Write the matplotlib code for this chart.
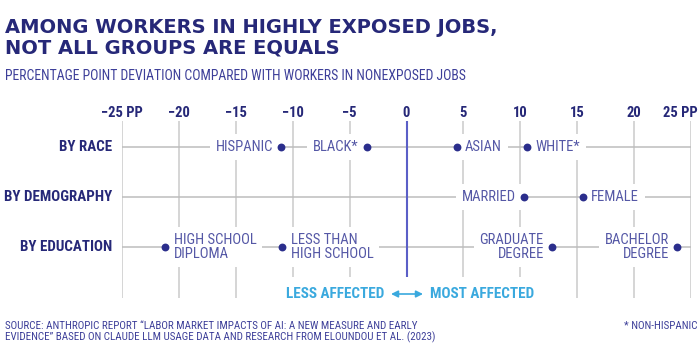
import numpy as np
import matplotlib
matplotlib.use("Agg")
import matplotlib.pyplot as plt

# data (percentage point deviation vs workers in nonexposed jobs)
groups = ["BY RACE", "BY DEMOGRAPHY", "BY EDUCATION"]
labels = [["HISPANIC", "BLACK*", "ASIAN", "WHITE*"],
          ["MARRIED", "FEMALE"],
          ["HIGH SCHOOL\nDIPLOMA", "LESS THAN\nHIGH SCHOOL", "GRADUATE\nDEGREE", "BACHELOR\nDEGREE"]]
values = [[-11.0, -3.5, 4.4, 10.6],
          [10.3, 15.5],
          [-21.2, -10.9, 12.8, 23.8]]
sides = [["l", "l", "r", "r"],
         ["l", "r"],
         ["r", "r", "l", "l"]]
ticks = [-25, -20, -15, -10, -5, 0, 5, 10, 15, 20, 25]
tick_labels = ["\u221225 PP", "\u221220", "\u221215", "\u221210", "\u22125", "0", "5", "10", "15", "20", "25 PP"]

NAVY = "#262878"
DOT = "#2b2e8c"
LAB = "#5558a6"
GRID = "#d2d2d2"
ROWC = "#bdbdbd"
ZERO = "#5b5fc7"
CYAN = "#3aa9de"
NARROW = ["Roboto Condensed", "DejaVu Sans"]

W, H = 700, 360
fig = plt.figure(figsize=(7, 3.6), dpi=100)

# axes covers x 122..691 px, y 121..305 px
top, bot = 121, 305
ax = fig.add_axes([122 / W, 1 - bot / H, 569 / W, (bot - top) / H])
row_px = 50.3
y0 = 146.7
ax.set_xlim(-25, 25)
ax.set_ylim((bot - y0) / row_px, (top - y0) / row_px)
ax.axis("off")

ytop = (top - y0) / row_px
ybot_long = (298 - y0) / row_px
ybot_short = (277 - y0) / row_px

# tick labels
for t, tl in zip(ticks, tick_labels):
    dx = -8 if t == 25 else 0
    ax.annotate(tl, (t, ytop), xytext=(dx, 3), textcoords="offset points",
                ha="center", va="baseline", fontsize=10.5, fontweight="bold",
                color=NAVY, family=NARROW, annotation_clip=False)

long_t = [t for t in ticks if abs(t) >= 15]
short_t = [t for t in ticks if 0 < abs(t) < 15]
ax.vlines(long_t, ytop, ybot_long, color=GRID, lw=1.3, zorder=1)
ax.vlines(short_t, ytop, ybot_short, color=GRID, lw=1.3, zorder=1)
ax.vlines([0], ytop, ybot_short, color=ZERO, lw=1.5, zorder=2)

rows = np.arange(len(groups))
ax.hlines(rows, -25, 25, color=ROWC, lw=1.1, zorder=1)

for i, g in enumerate(groups):
    ax.annotate(g, (-25, i), xytext=(-7, 0), textcoords="offset points",
                ha="right", va="center", fontsize=10.8, fontweight="bold",
                color=NAVY, family=NARROW, annotation_clip=False)
    ax.scatter(values[i], [i] * len(values[i]), s=32, color=DOT, zorder=5, lw=0)
    for lab, v, sd in zip(labels[i], values[i], sides[i]):
        dx = 6 if sd == "r" else -6
        ax.annotate(lab, (v, i), xytext=(dx, 0), textcoords="offset points",
                    ha="left" if sd == "r" else "right", va="center",
                    multialignment="left" if sd == "r" else "right",
                    fontsize=10.5, color=LAB, family=NARROW, linespacing=1.0,
                    bbox=dict(boxstyle="square,pad=0.4", fc="white", ec="none"),
                    zorder=4)

# less / most affected
ya = (294 - y0) / row_px
ax.text(-1.98, ya, "LESS AFFECTED", ha="right", va="center", fontsize=10.9,
        fontweight="bold", color=CYAN, family=NARROW)
ax.text(2.07, ya, "MOST AFFECTED", ha="left", va="center", fontsize=10.9,
        fontweight="bold", color=CYAN, family=NARROW)
ax.annotate("", xy=(-1.36, ya), xytext=(1.45, ya),
            arrowprops=dict(arrowstyle="<|-|>,head_length=0.4,head_width=0.2",
                            color=CYAN, lw=1.2, shrinkA=0, shrinkB=0))

# titles
fig.text(5 / W, 1 - 18 / H, "AMONG WORKERS IN HIGHLY EXPOSED JOBS,\nNOT ALL GROUPS ARE EQUALS",
         ha="left", va="top", fontsize=14, fontweight="heavy", color=NAVY,
         family="DejaVu Sans", linespacing=1.1)
fig.text(5 / W, 1 - 76 / H, "PERCENTAGE POINT DEVIATION COMPARED WITH WORKERS IN NONEXPOSED JOBS",
         ha="left", va="center", fontsize=9.95, color="#3d3f99", family=NARROW)

fig.text(5 / W, 1 - 332 / H,
         "SOURCE: ANTHROPIC REPORT \u201cLABOR MARKET IMPACTS OF AI: A NEW MEASURE AND EARLY\n"
         "EVIDENCE\u201d BASED ON CLAUDE LLM USAGE DATA AND RESEARCH FROM ELOUNDOU ET AL. (2023)",
         ha="left", va="center", fontsize=7.95, color="#3d3f99", family=NARROW,
         linespacing=1.1)
fig.text(697 / W, 1 - 326 / H, "* NON-HISPANIC", ha="right", va="center",
         fontsize=7.95, color="#3d3f99", family=NARROW)

fig.savefig("out.png", dpi=100, facecolor="white")
